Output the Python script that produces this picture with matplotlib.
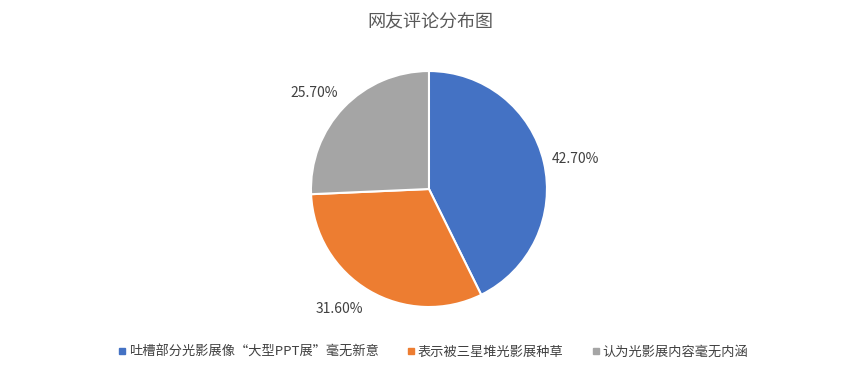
import matplotlib
matplotlib.use('Agg')
import numpy as np
import matplotlib.pyplot as plt
from matplotlib.lines import Line2D

plt.rcParams['font.family'] = ['Noto Sans CJK SC', 'DejaVu Sans']

# data
categories = ['吐槽部分光影展像“大型PPT展”毫无新意', '表示被三星堆光影展种草', '认为光影展内容毫无内涵']
shares = [42.7, 31.6, 25.7]
colors = ['#4472C4', '#ED7D31', '#A5A5A5']

fig = plt.figure(figsize=(8.6, 3.72), dpi=100)
ax = fig.add_axes([0.3273, 0.0954, 0.343, 0.793])

wedges, texts, autotexts = ax.pie(
    shares, colors=colors, startangle=90, counterclock=False,
    autopct='%.2f%%', pctdistance=1.27,
    wedgeprops=dict(edgecolor='white', linewidth=1.5),
    textprops=dict(color='#404040', fontsize=10))
ax.set_aspect('equal')

# nudge the data labels round the pie a little, as Excel places them
angle_nudge = [-1.6, -6.0, 4.0]
for w, t, nudge in zip(wedges, autotexts, angle_nudge):
    mid = np.deg2rad((w.theta1 + w.theta2) / 2 + nudge)
    t.set_position((1.27 * np.cos(mid), 1.27 * np.sin(mid)))

fig.text(0.5, 0.943, '网友评论分布图', ha='center', va='center', fontsize=13, color='#595959')

handles = [Line2D([], [], marker='s', linestyle='', markersize=5, color=c) for c in colors]
fig.legend(handles, categories, loc='center', bbox_to_anchor=(0.503, 0.053), ncol=3,
           frameon=False, fontsize=9.5, handletextpad=0.1, columnspacing=2.05,
           handlelength=0.8, labelcolor='#404040')

fig.savefig('out.png', dpi=100)
